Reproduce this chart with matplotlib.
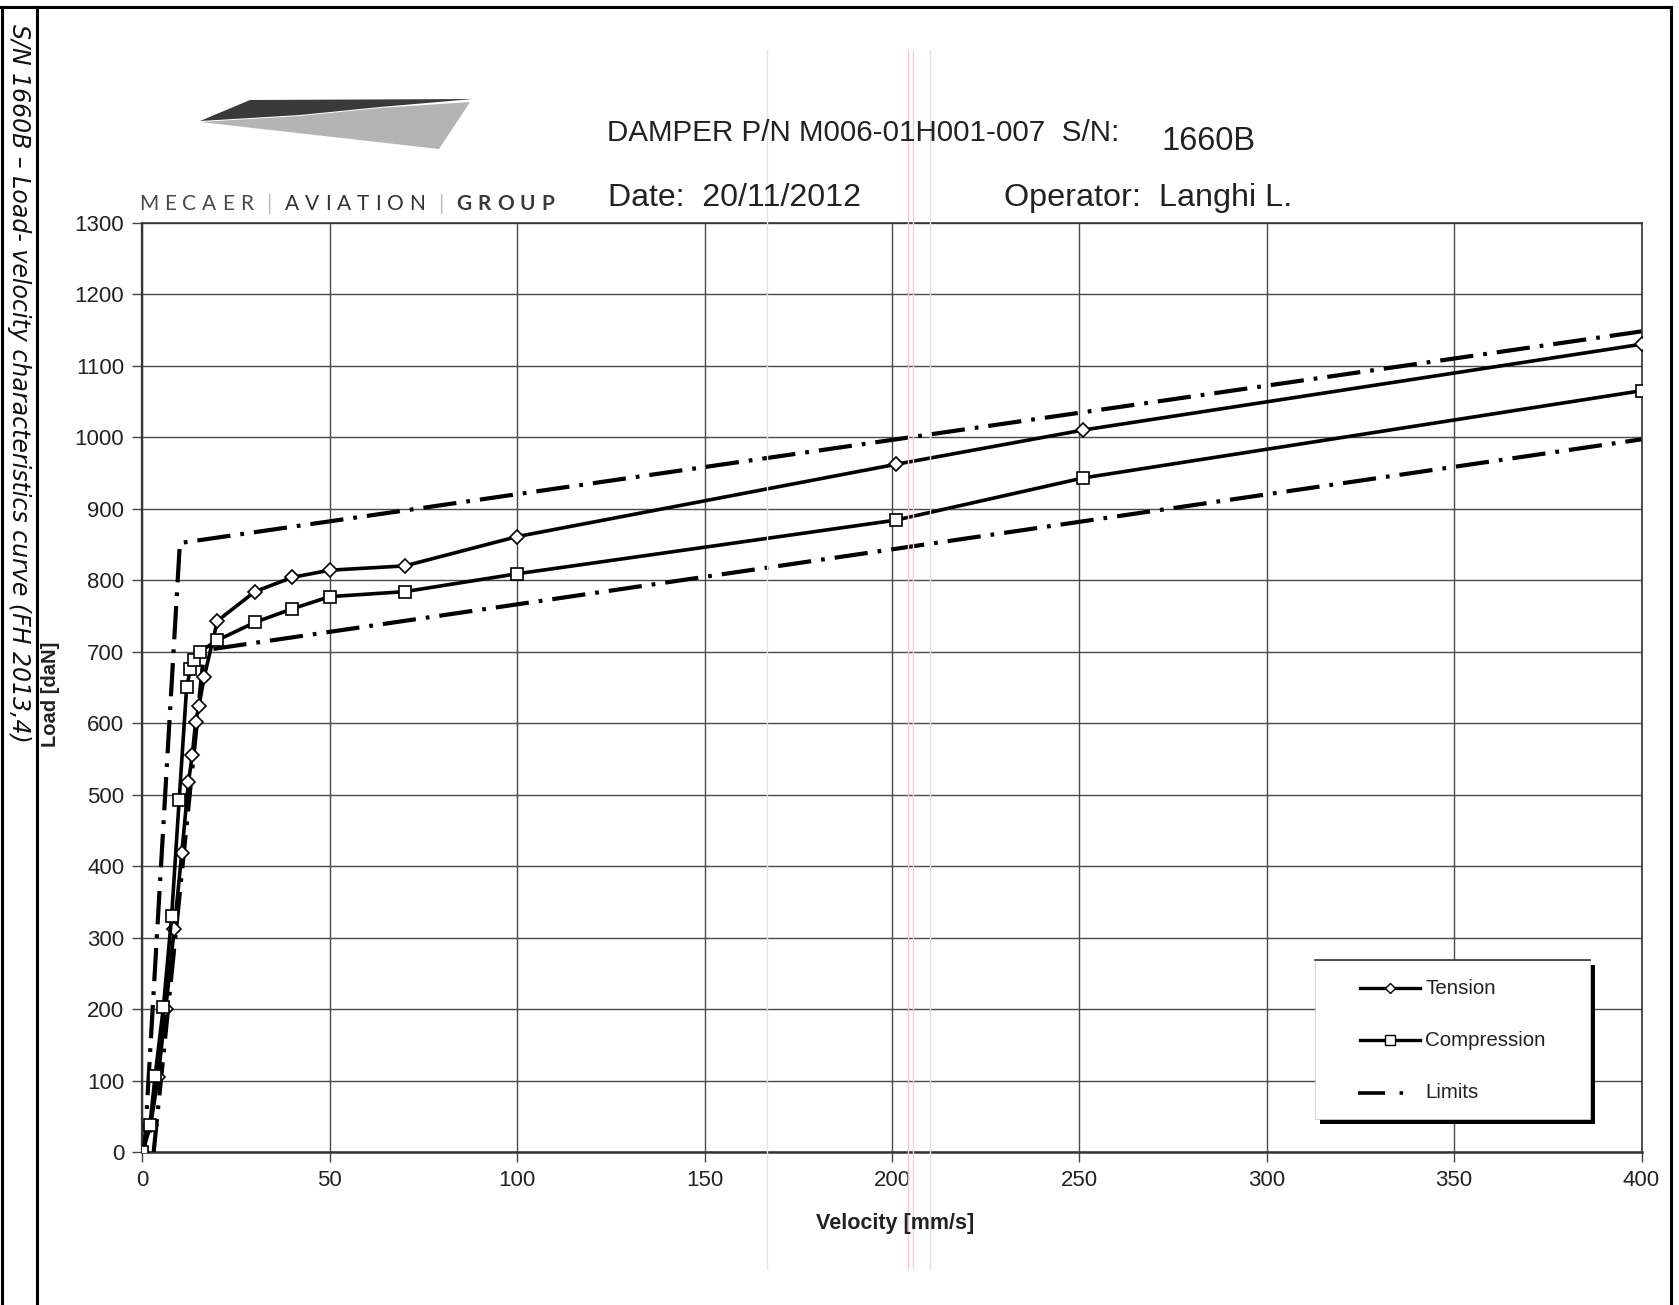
import matplotlib
matplotlib.use("Agg")
import matplotlib.pyplot as plt
from matplotlib.lines import Line2D
from matplotlib.patches import Polygon, Rectangle
from matplotlib.font_manager import FontProperties

# ---------------- data ----------------
tension_v = [0, 2.2, 4.2, 6.2, 8.5, 10.5, 12.3, 13.3, 14.2, 15.1, 16.5, 20, 30, 40, 50, 70, 100, 201, 251, 400]
tension_f = [0, 38, 105, 200, 312, 418, 518, 555, 602, 624, 665, 743, 784, 804, 814, 820, 861, 962, 1010, 1130]

compression_v = [0, 2, 3.4, 5.6, 7.8, 9.8, 11.8, 12.8, 13.8, 15.3, 20, 30, 40, 50, 70, 100, 201, 251, 400]
compression_f = [0, 38, 107, 203, 330, 492, 650, 676, 688, 700, 716, 741, 760, 777, 784, 809, 884, 943, 1065]

upper_limit_v = [0.5, 10, 400]
upper_limit_f = [0, 852, 1148]
lower_limit_v = [3, 16.5, 400]
lower_limit_f = [0, 702, 997]

x_ticks = [0, 50, 100, 150, 200, 250, 300, 350, 400]
y_ticks = list(range(0, 1301, 100))

W, H = 1679, 1305
fig = plt.figure(figsize=(W / 100, H / 100), dpi=100)
FONT = "Liberation Sans"


def fx(px):
    return px / W


def fy(py):
    return 1 - py / H


ax = fig.add_axes([fx(142.4), fy(1152.2), fx(1641.5) - fx(142.4), fy(222.7) - fy(1152.2)])
ax.set_xlim(0, 400)
ax.set_ylim(0, 1300)
ax.set_xticks(x_ticks)
ax.set_yticks(y_ticks)
ax.grid(True, color="#4a4a4a", linewidth=1.0)
ax.set_axisbelow(True)
for s in ax.spines.values():
    s.set_color("#333333")
    s.set_linewidth(1.2)
ax.spines["bottom"].set_linewidth(1.8)
ax.spines["left"].set_linewidth(1.6)
ax.tick_params(direction="out", length=7, width=1.0, color="#444444", pad=6,
               labelsize=16, labelcolor="#222222")
for lab in ax.get_xticklabels() + ax.get_yticklabels():
    lab.set_fontfamily(FONT)

dash_pat = [8.0, 2.4, 0.9, 2.4]
ax.plot(upper_limit_v, upper_limit_f, color="black", lw=3.0, dashes=dash_pat, zorder=3)
ax.plot(lower_limit_v, lower_limit_f, color="black", lw=3.0, dashes=dash_pat, zorder=3)
ax.plot(tension_v, tension_f, color="black", lw=2.6, marker="D", ms=7.5,
        mfc="white", mec="black", mew=1.2, zorder=4)
ax.plot(compression_v, compression_f, color="black", lw=2.6, marker="s", ms=8.5,
        mfc="white", mec="black", mew=1.2, zorder=4)

fig.text(fx(895), fy(1223), "Velocity [mm/s]", ha="center", va="center",
         fontsize=15.5, fontweight="bold", family=FONT, color="#222222")
fig.text(fx(51), fy(694), "Load [daN]", ha="center", va="center", rotation=90,
         fontsize=14.5, fontweight="bold", family=FONT, color="#222222")

# ---------------- legend (drawn box with shadow) ----------------
lx0, ly0, lx1, ly1 = 1315, 960, 1590, 1119
fig.add_artist(Rectangle((fx(lx0 + 5), fy(ly1 + 5)), fx(lx1 - lx0), fy(ly0) - fy(ly1),
                         transform=fig.transFigure, facecolor="black", edgecolor="none", zorder=5))
fig.add_artist(Rectangle((fx(lx0), fy(ly1)), fx(lx1 - lx0), fy(ly0) - fy(ly1),
                         transform=fig.transFigure, facecolor="white", edgecolor="#cccccc",
                         lw=0.6, zorder=6))
fig.add_artist(Line2D([fx(lx0), fx(lx1)], [fy(ly0), fy(ly0)], transform=fig.transFigure,
                      color="#333333", lw=1.2, zorder=7))
entries = [("Tension", 988, dict(marker="D", ms=5.5, mfc="white", mec="black", mew=1.0), None),
           ("Compression", 1040, dict(marker="s", ms=7.5, mfc="white", mec="black", mew=1.0), None),
           ("Limits", 1093, dict(), dash_pat)]
for label, yy, mk, dsh in entries:
    if dsh is None:
        fig.add_artist(Line2D([fx(1360), fx(1390), fx(1420)], [fy(yy)] * 3,
                              transform=fig.transFigure, color="black", lw=2.4,
                              markevery=[1], zorder=8, **mk))
    else:
        fig.add_artist(Line2D([fx(1358), fx(1420)], [fy(yy)] * 2, transform=fig.transFigure,
                              color="black", lw=2.6, dashes=[7.5, 4.0, 1, 6], zorder=8))
    fig.text(fx(1425), fy(yy), label, ha="left", va="center", fontsize=14.8,
             family=FONT, color="#222222", zorder=9)

# ---------------- header texts ----------------
fig.text(fx(607), fy(141), "DAMPER P/N M006-01H001-007  S/N:", ha="left", va="baseline",
         fontsize=21.3, family=FONT, color="#222222")
fig.text(fx(1162), fy(150), "1660B", ha="left", va="baseline",
         fontsize=23.5, family=FONT, color="#222222")
fig.text(fx(608), fy(206), "Date:  20/11/2012", ha="left", va="baseline",
         fontsize=23.1, family=FONT, color="#222222")
fig.text(fx(1004), fy(206), "Operator:  Langhi L.", ha="left", va="baseline",
         fontsize=23.3, family=FONT, color="#222222")

# company name, letter-spaced
renderer = fig.canvas.get_renderer()
x_cur = 139
pieces = [("MECAER", "#4a4a4a", "normal"), ("|", "#bbbbbb", "normal"),
          ("AVIATION", "#333333", "normal"), ("|", "#bbbbbb", "normal"),
          ("GROUP", "#3a3a3a", "bold")]
for i, (word, col, wt) in enumerate(pieces):
    prop = FontProperties(family="Lato", size=15, weight=wt)
    for ch in word:
        fig.text(fx(x_cur), fy(210), ch, ha="left", va="baseline", fontproperties=prop, color=col)
        w, h, d = renderer.get_text_width_height_descent(ch, prop, ismath=False)
        x_cur += w + 6.0
    x_cur += 7

# logo
fig.add_artist(Polygon([[fx(200), fy(121)], [fx(250), fy(100)], [fx(473), fy(99)],
                        [fx(380), fy(107)], [fx(300), fy(115)]],
                       closed=True, transform=fig.transFigure, facecolor="#3a3a3a",
                       edgecolor="none"))
fig.add_artist(Polygon([[fx(200), fy(122)], [fx(300), fy(116)], [fx(380), fy(108)],
                        [fx(470), fy(102)], [fx(439), fy(149)]],
                       closed=True, transform=fig.transFigure, facecolor="#b4b4b4",
                       edgecolor="none"))

# ---------------- page frame and side caption ----------------
frame_kw = dict(transform=fig.transFigure, color="black", lw=2.2)
fig.add_artist(Line2D([fx(1), fx(1671)], [fy(7), fy(7)], **frame_kw))
fig.add_artist(Line2D([fx(1.5), fx(1.5)], [fy(7), 0], **frame_kw))
fig.add_artist(Line2D([fx(36.5), fx(36.5)], [fy(7), 0], **frame_kw))
fig.add_artist(Line2D([fx(1671), fx(1671)], [fy(7), 0], **frame_kw))
fig.text(fx(19), fy(24), "S/N 1660B \u2013 Load- velocity characteristics curve (FH 2013,4)",
         rotation=270, ha="center", va="top", fontsize=17, style="italic",
         family="DejaVu Sans", color="#111111")

# faint scan lines
for xx, col in [(767, "#e4e4e4"), (908, "#f2c6d8"), (913, "#f2d0de"), (930, "#e0e0e0")]:
    fig.add_artist(Line2D([fx(xx), fx(xx)], [fy(50), fy(1268)], transform=fig.transFigure,
                          color=col, lw=1.0, zorder=0.5))

fig.savefig("out.png", dpi=100, facecolor="white")
